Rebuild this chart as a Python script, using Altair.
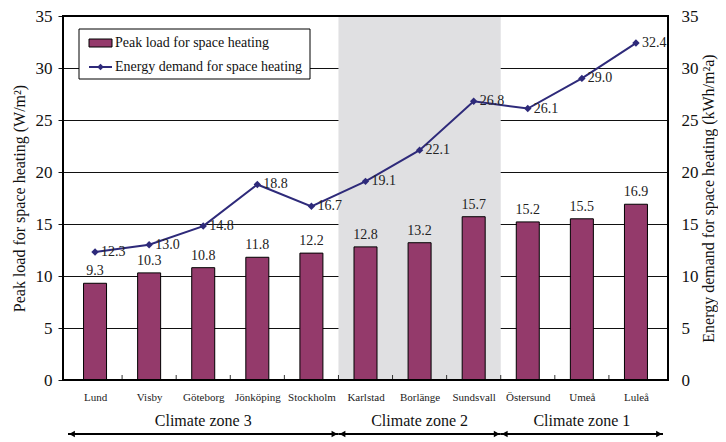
import altair as alt
import pandas as pd

cities = ["Lund", "Visby", "Göteborg", "Jönköping", "Stockholm", "Karlstad",
          "Borlänge", "Sundsvall", "Östersund", "Umeå", "Luleå"]
peak_load = [9.3, 10.3, 10.8, 11.8, 12.2, 12.8, 13.2, 15.7, 15.2, 15.5, 16.9]
energy_demand = [12.3, 13.0, 14.8, 18.8, 16.7, 19.1, 22.1, 26.8, 26.1, 29.0, 32.4]
zone_names = ["Climate zone 3", "Climate zone 2", "Climate zone 1"]
zone_first = [0, 5, 8]
zone_last = [4, 7, 10]
shaded_zone = "Climate zone 2"

W, H = 605, 364
FONT = "'Times New Roman', 'Liberation Serif', 'DejaVu Serif', serif"
BAR = "#943A6B"
LINE = "#2E2A7A"

df = pd.DataFrame({"i": list(range(len(cities))), "city": cities,
                   "peak": peak_load, "energy": energy_demand})
zones = pd.DataFrame({"zone": zone_names, "first": zone_first, "last": zone_last})
bounds = pd.DataFrame({"b": [k + 0.5 for k in range(len(cities) - 1)]})

label_expr = "[" + ",".join('"%s"' % c for c in cities) + "][datum.value]"
xscale = alt.Scale(domain=[-0.5, len(cities) - 0.5], nice=False, zero=False)
yscale = alt.Scale(domain=[0, 35], nice=False)

xaxis = alt.Axis(values=list(range(len(cities))), labelExpr=label_expr, ticks=False,
                 grid=False, domain=False, labelFont=FONT, labelFontSize=11,
                 labelColor="#222", labelPadding=11, title=None)

base = alt.Chart(df)

shade = alt.Chart(zones).transform_filter(alt.datum.zone == shaded_zone).transform_calculate(
    x0="datum.first - 0.5", x1="datum.last + 0.5"
).mark_rect(color="#E0E0E2").encode(
    x=alt.X("x0:Q", scale=xscale, axis=xaxis),
    x2="x1:Q",
    y=alt.value(0), y2=alt.value(H),
)

bars = base.mark_bar(size=23, color=BAR, stroke="black", strokeWidth=1).encode(
    x=alt.X("i:Q", scale=xscale, axis=xaxis),
    y=alt.Y("peak:Q", scale=yscale, axis=alt.Axis(
        values=[0, 5, 10, 15, 20, 25, 30, 35], grid=True, gridColor="#111", gridWidth=1,
        domain=False, tickColor="#111", tickSize=5, labelFont=FONT, labelFontSize=17,
        labelColor="#111", labelPadding=6,
        title="Peak load for space heating (W/m²)", titleFont=FONT, titleFontSize=16,
        titleFontWeight="normal", titleColor="#111", titlePadding=8)),
)

bar_labels = base.mark_text(font=FONT, fontSize=14, color="#222", dy=-12).encode(
    x=alt.X("i:Q", scale=xscale), y=alt.Y("peak:Q", scale=yscale),
    text=alt.Text("peak:Q", format=".1f"),
)

xticks = alt.Chart(bounds).mark_rule(color="#333", strokeWidth=1).encode(
    x=alt.X("b:Q", scale=xscale), y=alt.value(H), y2=alt.value(H - 5),
)

frame = base.mark_rect(fill=None, stroke="black", strokeWidth=2).encode(
    x=alt.value(0), x2=alt.value(W), y=alt.value(0), y2=alt.value(H)
).transform_filter(alt.datum.i == 0)

left = alt.layer(shade, bars, bar_labels, xticks)

line = base.mark_line(color=LINE, strokeWidth=2).encode(
    x=alt.X("i:Q", scale=xscale),
    y=alt.Y("energy:Q", scale=yscale, axis=alt.Axis(
        orient="right", values=[0, 5, 10, 15, 20, 25, 30, 35], grid=False, domain=False,
        ticks=False, labelFont=FONT, labelFontSize=17, labelColor="#111", labelPadding=13,
        title="Energy demand for space heating (kWh/m²a)", titleFont=FONT, titleFontSize=16,
        titleFontWeight="normal", titleColor="#111", titlePadding=2, titleAngle=270,
        titleBaseline="top")),
)
pts = base.mark_point(shape="diamond", filled=True, size=55, color=LINE, opacity=1).encode(
    x=alt.X("i:Q", scale=xscale), y=alt.Y("energy:Q", scale=yscale),
)
line_labels = base.mark_text(font=FONT, fontSize=14, color="#222", align="left", dx=6).encode(
    x=alt.X("i:Q", scale=xscale), y=alt.Y("energy:Q", scale=yscale),
    text=alt.Text("energy:Q", format=".1f"),
)
right = alt.layer(line, pts, line_labels)

# zone labels and arrows below axis
zone_txt = alt.Chart(zones).transform_calculate(mid="(datum.first + datum.last) / 2").mark_text(
    font=FONT, fontSize=16, color="#111").encode(
    x=alt.X("mid:Q", scale=xscale), y=alt.value(H + 41), text="zone:N")
zone_rule = alt.Chart(zones).transform_calculate(
    x0="datum.first - 0.5", x1="datum.last + 0.5").mark_rule(color="black", strokeWidth=2).encode(
    x=alt.X("x0:Q", scale=xscale), x2="x1:Q", y=alt.value(H + 54))
arrow_l = alt.Chart(zones).transform_calculate(x0="datum.first - 0.5").mark_point(
    shape="triangle-left", filled=True, size=45, color="black", opacity=1, xOffset=4).encode(
    x=alt.X("x0:Q", scale=xscale), y=alt.value(H + 54))
arrow_r = alt.Chart(zones).transform_calculate(x1="datum.last + 0.5").mark_point(
    shape="triangle-right", filled=True, size=45, color="black", opacity=1, xOffset=-4).encode(
    x=alt.X("x1:Q", scale=xscale), y=alt.value(H + 54))

# legend
leg_df = pd.DataFrame({"k": [0]})
leg = alt.Chart(leg_df)
leg_box = leg.mark_rect(fill="white", stroke="black", strokeWidth=1).encode(
    x=alt.value(16), x2=alt.value(247), y=alt.value(13), y2=alt.value(63))
leg_sw = leg.mark_rect(fill=BAR, stroke="black", strokeWidth=1).encode(
    x=alt.value(26), x2=alt.value(49), y=alt.value(23), y2=alt.value(31))
leg_ln = leg.mark_rule(color=LINE, strokeWidth=2).encode(
    x=alt.value(26), x2=alt.value(49), y=alt.value(51))
leg_pt = leg.mark_point(shape="diamond", filled=True, size=45, color=LINE, opacity=1).encode(
    x=alt.value(37.5), y=alt.value(51))
leg_t1 = leg.mark_text(font=FONT, fontSize=14, color="#111", align="left").encode(
    x=alt.value(52), y=alt.value(27), text=alt.value("Peak load for space heating"))
leg_t2 = leg.mark_text(font=FONT, fontSize=14, color="#111", align="left").encode(
    x=alt.value(52), y=alt.value(51), text=alt.value("Energy demand for space heating"))

chart = alt.layer(
    left, right, frame, zone_txt, zone_rule, arrow_l, arrow_r,
    leg_box, leg_sw, leg_ln, leg_pt, leg_t1, leg_t2,
).resolve_scale(y="independent").properties(
    width=W, height=H,
    autosize=alt.AutoSizeParams(type="none"),
    padding={"left": 55, "top": 8, "right": 50, "bottom": 62},
).configure_view(stroke=None).configure(background="white")

chart.save("out.html", embed_options={"renderer": "svg", "actions": False})
